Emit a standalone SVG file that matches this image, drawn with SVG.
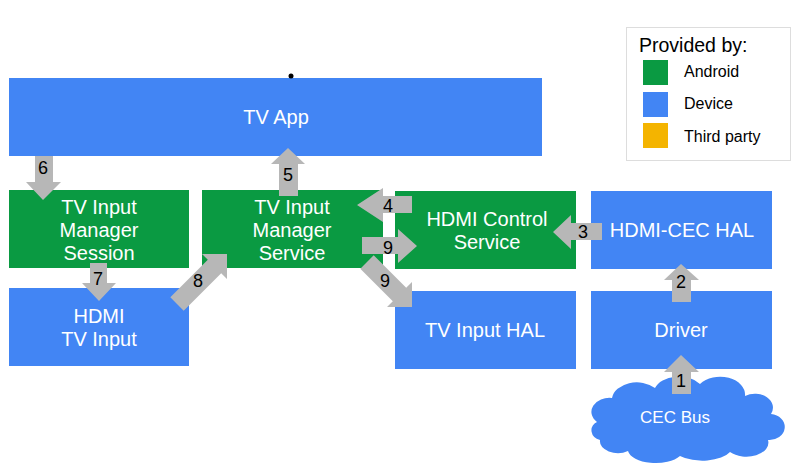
<svg xmlns="http://www.w3.org/2000/svg" width="800" height="466" viewBox="0 0 800 466">
<style>
.g{fill:#0A9A42}
.b{fill:#4285F4}
.y{fill:#F4B400}
.t{font-family:"Liberation Sans",Arial,sans-serif;font-size:20px;fill:#fff;text-anchor:middle}
.n{font-family:"Liberation Sans",Arial,sans-serif;font-size:18px;fill:#000;text-anchor:middle}
.l{font-family:"Liberation Sans",Arial,sans-serif;font-size:16px;fill:#000}
.a{fill:#B7B7B7}
</style>
<rect width="800" height="466" fill="#fff"/>
<g id="legend">
<rect x="626.5" y="27.5" width="164" height="133" fill="#fff" stroke="#DDDDDD"/>
<text x="639" y="52" class="l" style="font-size:19.5px">Provided by:</text>
<rect x="643" y="60" width="25" height="25" class="g"/>
<text x="684" y="77" class="l">Android</text>
<rect x="643" y="92" width="25" height="25" class="b"/>
<text x="684" y="109" class="l">Device</text>
<rect x="643" y="123" width="25" height="25" class="y"/>
<text x="684" y="142" class="l">Third party</text>
</g>
<g id="tv-app">
<rect x="9" y="78" width="533" height="78" class="b"/>
<text x="276" y="124" class="t">TV App</text>
<circle cx="291" cy="76" r="2.5" fill="#000"/>
</g>
<g id="tim-session">
<rect x="9" y="190" width="180" height="78" class="g"/>
<text x="99" y="214" class="t">TV Input</text>
<text x="99" y="237" class="t">Manager</text>
<text x="99" y="260" class="t">Session</text>
</g>
<g id="tim-service">
<rect x="202" y="190" width="181" height="78" class="g"/>
<text x="292" y="214" class="t">TV Input</text>
<text x="292" y="237" class="t">Manager</text>
<text x="292" y="260" class="t">Service</text>
</g>
<g id="hdmi-control">
<rect x="395" y="191" width="181" height="78" class="g"/>
<text x="487" y="226" class="t">HDMI Control</text>
<text x="487" y="249" class="t">Service</text>
</g>
<g id="hdmi-cec-hal">
<rect x="591" y="191" width="181" height="78" class="b"/>
<text x="682" y="237" class="t">HDMI-CEC HAL</text>
</g>
<g id="hdmi-tv-input">
<rect x="9" y="288" width="180" height="78" class="b"/>
<text x="99" y="323" class="t">HDMI</text>
<text x="99" y="346" class="t">TV Input</text>
</g>
<g id="tv-input-hal">
<rect x="395" y="291" width="181" height="78" class="b"/>
<text x="485" y="337" class="t">TV Input HAL</text>
</g>
<g id="driver">
<rect x="591" y="291" width="181" height="78" class="b"/>
<text x="681" y="337" class="t">Driver</text>
</g>
<g id="cec-bus">
<path class="b" d="M 597,422 A 18 14 0 0 1 612,398 A 25 18 0 0 1 655,388 A 25 16 0 0 1 700,384 A 25 18 0 0 1 745,396 A 18 14 0 0 1 771,414 A 14 12 0 0 1 768,440 A 22 14 0 0 1 730,452 A 30 14 0 0 1 680,456 A 28 14 0 0 1 628,451 A 18 12 0 0 1 600,440 A 12 10 0 0 1 597,422 Z"/>
<text x="675" y="423" class="t" style="font-size:17px">CEC Bus</text>
</g>
<g id="connectors">
<polygon class="a" points="35,156 53,156 53,182 61,182 43,200 26,182 35,182"/>
<text x="43" y="174" class="n">6</text>
<polygon class="a" points="279,196 298,196 298,164 305,164 288,148 271,164 279,164"/>
<text x="288" y="181" class="n">5</text>
<polygon class="a" points="412,196 412,213 383,213 383,222 357,205 383,188 383,196"/>
<text x="388" y="212" class="n">4</text>
<polygon class="a" points="362,237 398,237 398,229 417,246 398,263 398,254 362,254"/>
<text x="388" y="254" class="n">9</text>
<polygon class="a" points="373.7,255.3 406.2,287.8 412,282 412,307 387,307 392.8,301.2 360.3,268.7"/>
<text x="385" y="287" class="n">9</text>
<polygon class="a" points="602,223 602,240 571,240 571,249 553,232 571,215 571,223"/>
<text x="583" y="238" class="n">3</text>
<polygon class="a" points="90,263 107,263 107,283 116,283 99,301 82,283 90,283"/>
<text x="98" y="285" class="n">7</text>
<polygon class="a" points="170.3,297.3 207.8,259.8 202,254 227,254 227,279 221.2,273.2 183.7,310.7"/>
<text x="198" y="287" class="n">8</text>
<polygon class="a" points="672,302 691,302 691,280 699,280 681,264 664,280 672,280"/>
<text x="681" y="288" class="n">2</text>
<polygon class="a" points="672,394 691,394 691,372 699,372 681,355 664,372 672,372"/>
<text x="681" y="387" class="n">1</text>
</g>
</svg>
